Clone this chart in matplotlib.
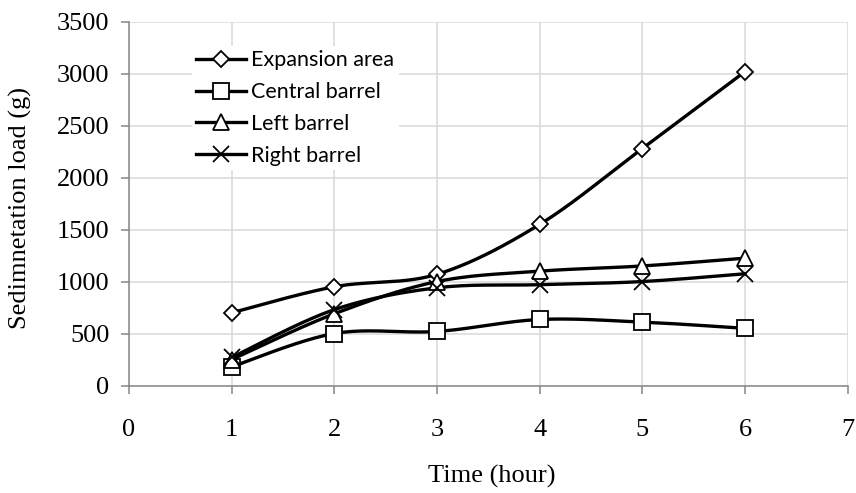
import numpy as np
import matplotlib
matplotlib.use("Agg")
import matplotlib.pyplot as plt
from matplotlib.lines import Line2D

# ---- data ----
hours = [1, 2, 3, 4, 5, 6]
expansion_area = [700, 950, 1070, 1550, 2280, 3020]
central_barrel = [180, 500, 520, 635, 610, 550]
left_barrel = [250, 690, 1000, 1100, 1150, 1225]
right_barrel = [270, 730, 940, 970, 1000, 1075]
series_names = ["Expansion area", "Central barrel", "Left barrel", "Right barrel"]
x_ticks = [0, 1, 2, 3, 4, 5, 6, 7]
y_ticks = [0, 500, 1000, 1500, 2000, 2500, 3000, 3500]


def excel_smooth(x, y, n=40):
    P = np.column_stack([np.asarray(x, float), np.asarray(y, float)])
    ext = np.vstack([P[0], P, P[-1]])
    out = []
    t = np.linspace(0, 1, n)[:, None]
    for i in range(len(P) - 1):
        p0, p1, p2, p3 = ext[i], ext[i + 1], ext[i + 2], ext[i + 3]
        c1 = p1 + (p2 - p0) / 6.0
        c2 = p2 - (p3 - p1) / 6.0
        seg = (1 - t) ** 3 * p1 + 3 * (1 - t) ** 2 * t * c1 + 3 * (1 - t) * t ** 2 * c2 + t ** 3 * p2
        out.append(seg if i == 0 else seg[1:])
    s = np.vstack(out)
    return s[:, 0], s[:, 1]


W, H = 856, 493
fig = plt.figure(figsize=(W / 100, H / 100), dpi=100)
ax = fig.add_axes([129 / W, 1 - 385.5 / H, (847.7 - 129) / W, (385.5 - 21.7) / H])

serif = "Liberation Serif"
sans = "Lato"

styles = [
    dict(marker="D", ms=8.3),
    dict(marker="s", ms=11),
    dict(marker="^", ms=11.5),
    dict(marker="x", ms=11.5),
]
data = [expansion_area, central_barrel, left_barrel, right_barrel]

handles = []
for name, vals, st in zip(series_names, data, styles):
    sx, sy = excel_smooth(hours, vals)
    ax.plot(sx, sy, color="black", lw=2.4, zorder=3, solid_capstyle="round")
    ax.plot(hours, vals, linestyle="none", marker=st["marker"], ms=st["ms"],
            mfc="white", mec="black", mew=1.3, zorder=4)
    handles.append(Line2D([0], [0], color="black", lw=2.4, marker=st["marker"],
                          ms=st["ms"], mfc="white", mec="black", mew=1.3))

ax.set_xlim(0, 7)
ax.set_ylim(0, 3500)
ax.set_xticks(x_ticks)
ax.set_yticks(y_ticks)
ax.set_xticklabels([str(v) for v in x_ticks], fontfamily=serif, fontsize=19)
ax.set_yticklabels([str(v) for v in y_ticks], fontfamily=serif, fontsize=19)

ax.grid(True, color="#d9d9d9", lw=1.1, zorder=0)
ax.set_axisbelow(True)
for s in ["top", "right"]:
    ax.spines[s].set_visible(False)
for s in ["left", "bottom"]:
    ax.spines[s].set_color("#868686")
    ax.spines[s].set_linewidth(1.1)
ax.tick_params(axis="x", direction="out", length=6, width=1.1, color="#868686", pad=18)
ax.tick_params(axis="y", direction="out", length=6, width=1.1, color="#868686", pad=8)

fig.text(20 / W, 1 - 208 / H, "Sedimnetation load (g)", rotation=90, ha="center",
         va="center", fontfamily=serif, fontsize=19)
fig.text(492 / W, 1 - 476 / H, "Time (hour)", ha="center", va="center",
         fontfamily=serif, fontsize=19)

leg = ax.legend(handles, series_names, loc="upper left",
                bbox_to_anchor=(192 / W, 1 - 46 / H), bbox_transform=fig.transFigure,
                prop={"family": sans, "size": 15.5}, frameon=True, fancybox=False,
                borderpad=0.2, borderaxespad=0, handlelength=2.3, handletextpad=0.25,
                labelspacing=0.55)
leg.get_frame().set_facecolor("white")
leg.get_frame().set_edgecolor("none")
leg.get_frame().set_alpha(1)
leg.set_zorder(5)

fig.savefig("out.png", dpi=100)
